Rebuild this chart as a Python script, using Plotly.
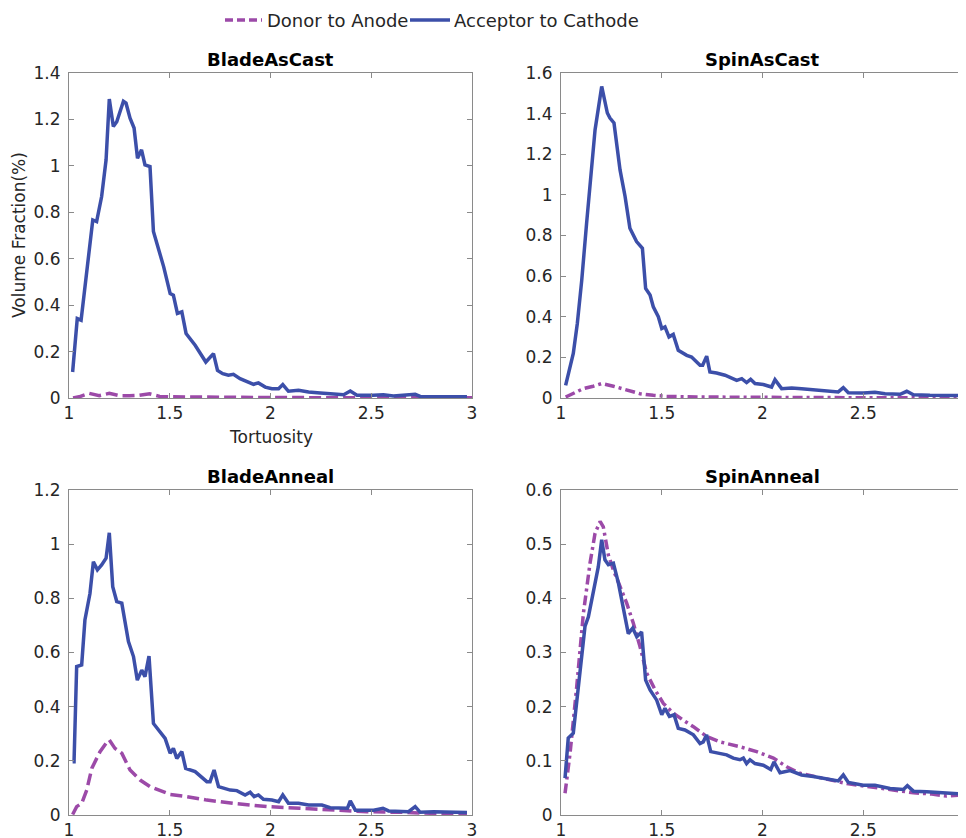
import plotly.graph_objects as go

# ---------------- data ----------------
panel_titles = ["BladeAsCast", "SpinAsCast", "BladeAnneal", "SpinAnneal"]
series_names = ["Donor to Anode", "Acceptor to Cathode"]
x_ticks = [1, 1.5, 2, 2.5, 3]
y_max = [1.4, 1.6, 1.2, 0.6]
y_dtick = [0.2, 0.2, 0.2, 0.1]

# BladeAsCast
ba_acc_x = [1.018, 1.041, 1.06, 1.118, 1.137, 1.162, 1.184, 1.2, 1.22, 1.237, 1.27, 1.283, 1.303, 1.323,
            1.34, 1.36, 1.377, 1.402, 1.419, 1.47, 1.502, 1.518, 1.538, 1.56, 1.581, 1.626, 1.679, 1.717,
            1.737, 1.763, 1.791, 1.816, 1.849, 1.891, 1.916, 1.94, 1.974, 2.007, 2.04, 2.061, 2.089, 2.139,
            2.189, 2.247, 2.288, 2.313, 2.363, 2.396, 2.429, 2.51, 2.56, 2.61, 2.718, 2.743, 2.81, 2.975]
ba_acc_y = [0.112, 0.342, 0.335, 0.767, 0.76, 0.868, 1.026, 1.288, 1.17, 1.19, 1.278, 1.27, 1.205, 1.163,
            1.033, 1.069, 1.004, 0.997, 0.717, 0.565, 0.45, 0.443, 0.364, 0.371, 0.278, 0.227, 0.155, 0.191,
            0.119, 0.105, 0.098, 0.102, 0.083, 0.069, 0.059, 0.065, 0.047, 0.04, 0.04, 0.058, 0.029, 0.033,
            0.026, 0.022, 0.019, 0.014, 0.014, 0.03, 0.012, 0.012, 0.014, 0.009, 0.016, 0.007, 0.007, 0.005]
ba_don_x = [1.02, 1.05, 1.1, 1.15, 1.2, 1.25, 1.3, 1.35, 1.4, 1.45, 1.5, 1.6, 1.8, 2.0, 2.5, 3.0]
ba_don_y = [0.0, 0.005, 0.02, 0.01, 0.02, 0.01, 0.01, 0.012, 0.018, 0.007, 0.005, 0.004, 0.003, 0.002, 0.001, 0.001]

# SpinAsCast
sa_acc_x = [1.023, 1.061, 1.081, 1.103, 1.127, 1.169, 1.202, 1.213, 1.23, 1.243, 1.263, 1.293, 1.318, 1.342,
            1.375, 1.404, 1.42, 1.442, 1.458, 1.483, 1.5, 1.516, 1.536, 1.557, 1.582, 1.624, 1.648, 1.69,
            1.703, 1.723, 1.739, 1.772, 1.814, 1.872, 1.897, 1.921, 1.941, 1.963, 2.004, 2.045, 2.062, 2.095,
            2.145, 2.194, 2.269, 2.327, 2.376, 2.401, 2.426, 2.5, 2.558, 2.608, 2.683, 2.716, 2.749, 2.831,
            2.906, 2.98]
sa_acc_y = [0.0625, 0.219, 0.367, 0.58, 0.86, 1.32, 1.534, 1.477, 1.403, 1.378, 1.354, 1.123, 0.992, 0.836,
            0.77, 0.737, 0.539, 0.507, 0.449, 0.4, 0.342, 0.35, 0.301, 0.313, 0.235, 0.21, 0.202, 0.161,
            0.161, 0.206, 0.128, 0.123, 0.112, 0.087, 0.095, 0.076, 0.092, 0.071, 0.066, 0.054, 0.09, 0.046,
            0.049, 0.046, 0.038, 0.033, 0.03, 0.051, 0.026, 0.025, 0.028, 0.021, 0.018, 0.033, 0.016, 0.013,
            0.013, 0.012]
sa_don_x = [1.023, 1.061, 1.111, 1.16, 1.202, 1.26, 1.326, 1.392, 1.458, 1.524, 1.673, 1.92, 2.25, 2.98]
sa_don_y = [0.005, 0.021, 0.046, 0.058, 0.071, 0.058, 0.038, 0.021, 0.013, 0.008, 0.005, 0.003, 0.002, 0.001]

# BladeAnneal
bn_acc_x = [1.018, 1.025, 1.038, 1.063, 1.079, 1.104, 1.121, 1.141, 1.162, 1.184, 1.2, 1.217, 1.237, 1.262,
            1.295, 1.32, 1.339, 1.361, 1.377, 1.397, 1.419, 1.449, 1.477, 1.502, 1.518, 1.535, 1.56, 1.579,
            1.626, 1.684, 1.7, 1.72, 1.742, 1.8, 1.833, 1.874, 1.899, 1.919, 1.94, 1.965, 2.007, 2.04, 2.061,
            2.089, 2.139, 2.189, 2.255, 2.296, 2.346, 2.382, 2.396, 2.421, 2.512, 2.558, 2.586, 2.685, 2.718,
            2.743, 2.81, 2.975]
bn_acc_y = [0.197, 0.197, 0.548, 0.554, 0.72, 0.818, 0.935, 0.905, 0.923, 0.948, 1.042, 0.843, 0.788, 0.782,
            0.64, 0.585, 0.498, 0.535, 0.511, 0.587, 0.338, 0.308, 0.283, 0.228, 0.246, 0.209, 0.234, 0.172,
            0.16, 0.123, 0.123, 0.166, 0.105, 0.092, 0.09, 0.074, 0.084, 0.068, 0.074, 0.058, 0.055, 0.049,
            0.074, 0.043, 0.043, 0.037, 0.037, 0.027, 0.025, 0.025, 0.052, 0.018, 0.018, 0.025, 0.015, 0.012,
            0.031, 0.01, 0.012, 0.009]
bn_don_x = [1.018, 1.038, 1.063, 1.088, 1.113, 1.154, 1.184, 1.2, 1.228, 1.262, 1.303, 1.353, 1.402, 1.452,
            1.502, 1.584, 1.684, 1.816, 1.982, 2.147, 2.313, 2.478, 2.644, 2.81, 2.975]
bn_don_y = [0.002, 0.031, 0.043, 0.092, 0.172, 0.234, 0.265, 0.277, 0.246, 0.228, 0.166, 0.129, 0.105, 0.09,
            0.076, 0.068, 0.055, 0.043, 0.031, 0.025, 0.018, 0.012, 0.01, 0.006, 0.006]

# SpinAnneal
sn_acc_x = [1.02, 1.036, 1.061, 1.119, 1.136, 1.16, 1.185, 1.202, 1.218, 1.235, 1.26, 1.285, 1.309, 1.334,
            1.356, 1.376, 1.4, 1.42, 1.442, 1.475, 1.5, 1.516, 1.538, 1.561, 1.582, 1.615, 1.657, 1.69,
            1.706, 1.723, 1.743, 1.781, 1.822, 1.855, 1.888, 1.905, 1.921, 1.938, 1.963, 2.004, 2.041, 2.057,
            2.087, 2.137, 2.194, 2.252, 2.319, 2.376, 2.401, 2.426, 2.5, 2.558, 2.633, 2.699, 2.719, 2.749,
            2.815, 2.881, 2.98]
sn_acc_y = [0.068, 0.142, 0.151, 0.348, 0.366, 0.409, 0.458, 0.508, 0.471, 0.462, 0.465, 0.428, 0.385, 0.335,
            0.345, 0.329, 0.338, 0.249, 0.231, 0.212, 0.185, 0.197, 0.182, 0.185, 0.16, 0.157, 0.148, 0.132,
            0.135, 0.148, 0.117, 0.114, 0.111, 0.105, 0.102, 0.105, 0.095, 0.102, 0.095, 0.092, 0.084, 0.098,
            0.078, 0.082, 0.074, 0.071, 0.066, 0.063, 0.074, 0.06, 0.055, 0.055, 0.049, 0.047, 0.054, 0.044,
            0.043, 0.041, 0.039]
sn_don_x = [1.02, 1.045, 1.078, 1.111, 1.144, 1.169, 1.194, 1.21, 1.235, 1.26, 1.293, 1.326, 1.359, 1.392,
            1.425, 1.467, 1.508, 1.557, 1.607, 1.657, 1.723, 1.789, 1.888, 1.971, 2.054, 2.12, 2.186, 2.252,
            2.335, 2.418, 2.5, 2.583, 2.666, 2.749, 2.832, 2.914, 2.98]
sn_don_y = [0.04, 0.114, 0.237, 0.372, 0.465, 0.52, 0.542, 0.532, 0.48, 0.452, 0.422, 0.391, 0.354, 0.311,
            0.262, 0.231, 0.206, 0.188, 0.175, 0.163, 0.145, 0.135, 0.126, 0.117, 0.105, 0.089, 0.077, 0.071,
            0.065, 0.058, 0.054, 0.049, 0.045, 0.041, 0.039, 0.035, 0.037]

panels = [
    (ba_don_x, ba_don_y, ba_acc_x, ba_acc_y),
    (sa_don_x, sa_don_y, sa_acc_x, sa_acc_y),
    (bn_don_x, bn_don_y, bn_acc_x, bn_acc_y),
    (sn_don_x, sn_don_y, sn_acc_x, sn_acc_y),
]

# ---------------- style / layout ----------------
OFF = 8                      # page body margin added by the browser
W, H = 966 - OFF, 838 - OFF  # figure size so the page fits the window
DONOR_COLOR = "#9c4aa8"
ACC_COLOR = "#3c4fa9"
AXIS_COLOR = "#8a8a8a"
TEXT_COLOR = "#262626"
FONT = "DejaVu Sans"
LW = 3.5
donor_dash = ["12px,5px", "10px,4px,3px,4px", "12px,5px", "10px,4px,3px,4px"]


def px(xp):
    return (xp - OFF) / W


def py(yp):
    return 1 - (yp - OFF) / H


# window-pixel boxes (left, right, top, bottom)
boxes = [(69, 472, 73, 398), (561, 964, 73, 398), (69, 472, 490, 815), (561, 964, 490, 815)]

fig = go.Figure()
layout = dict(
    width=W, height=H,
    margin=dict(l=0, r=0, t=0, b=0, autoexpand=False),
    paper_bgcolor="white", plot_bgcolor="white",
    font=dict(family=FONT, size=17, color=TEXT_COLOR),
    showlegend=False,
    annotations=[], shapes=[],
)

for i, (dx, dy, ax, ay) in enumerate(panels):
    n = i + 1
    xa = "x" if n == 1 else f"x{n}"
    ya = "y" if n == 1 else f"y{n}"
    fig.add_trace(go.Scatter(x=dx, y=dy, mode="lines", name=series_names[0],
                             line=dict(color=DONOR_COLOR, width=LW, dash=donor_dash[i]),
                             xaxis=xa, yaxis=ya))
    fig.add_trace(go.Scatter(x=ax, y=ay, mode="lines", name=series_names[1],
                             line=dict(color=ACC_COLOR, width=LW),
                             xaxis=xa, yaxis=ya))
    l, r, t, b = boxes[i]
    axis_common = dict(showgrid=False, zeroline=False, showline=True, linecolor=AXIS_COLOR, linewidth=1,
                       mirror="ticks", ticks="inside", ticklen=5, tickcolor=AXIS_COLOR,
                       automargin=False, ticklabeloverflow="allow",
                       tickfont=dict(family=FONT, size=17, color=TEXT_COLOR))
    xkey = "xaxis" if n == 1 else f"xaxis{n}"
    ykey = "yaxis" if n == 1 else f"yaxis{n}"
    layout[xkey] = dict(axis_common, domain=[px(l), min(px(r), 1.0)], range=[1, 3], tickvals=x_ticks,
                        anchor=ya)
    layout[ykey] = dict(axis_common, domain=[py(b), py(t)], range=[0, y_max[i]],
                        dtick=y_dtick[i], tick0=0, anchor=xa, ticklabelstandoff=4)
    layout["annotations"].append(dict(text=f"<b>{panel_titles[i]}</b>", x=px((l + r) / 2),
                                      y=py(t), xref="paper", yref="paper", xanchor="center",
                                      yanchor="bottom", yshift=1, showarrow=False,
                                      font=dict(family=FONT, size=18, color="black")))

# axis titles (first panel only)
layout["annotations"].append(dict(text="Tortuosity", x=px((69 + 472) / 2), y=py(437),
                                  xref="paper", yref="paper", xanchor="center", yanchor="middle",
                                  showarrow=False, font=dict(family=FONT, size=17, color=TEXT_COLOR)))
layout["annotations"].append(dict(text="Volume Fraction(%)", x=px(19), y=py(235),
                                  xref="paper", yref="paper", xanchor="center", yanchor="middle",
                                  textangle=-90, showarrow=False,
                                  font=dict(family=FONT, size=17, color=TEXT_COLOR)))

# legend drawn at the top
leg_y = py(20)
layout["shapes"].append(dict(type="line", xref="paper", yref="paper", x0=px(225), x1=px(262),
                             y0=leg_y, y1=leg_y, line=dict(color=DONOR_COLOR, width=LW, dash="8px,4px")))
layout["annotations"].append(dict(text=series_names[0], x=px(265), y=leg_y, xref="paper", yref="paper",
                                  xanchor="left", yanchor="middle", showarrow=False,
                                  font=dict(family=FONT, size=18, color=TEXT_COLOR)))
layout["shapes"].append(dict(type="line", xref="paper", yref="paper", x0=px(410), x1=px(450),
                             y0=leg_y, y1=leg_y, line=dict(color=ACC_COLOR, width=LW)))
layout["annotations"].append(dict(text=series_names[1], x=px(452), y=leg_y, xref="paper", yref="paper",
                                  xanchor="left", yanchor="middle", showarrow=False,
                                  font=dict(family=FONT, size=18, color=TEXT_COLOR)))

fig.update_layout(**layout)
fig.write_html("out.html")
